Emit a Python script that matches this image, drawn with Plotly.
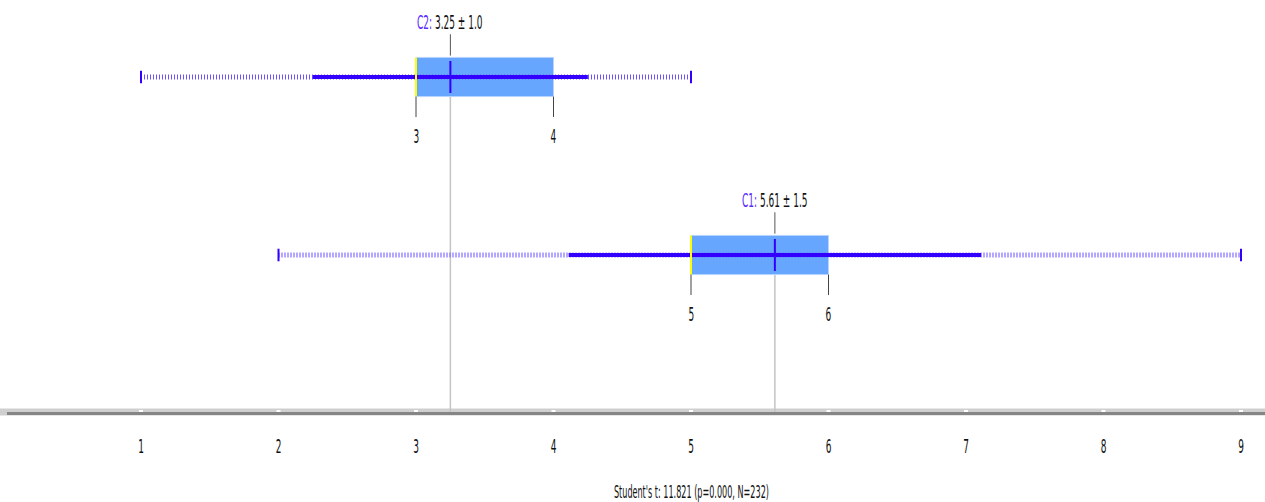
import plotly.graph_objects as go

# Group summaries (top row first)
groups = ["C2", "C1"]
means = [3.25, 5.61]
sds = [1.0, 1.5]
q1s = [3, 5]
q3s = [4, 6]
medians = [3, 5]
mins = [1, 2]
maxs = [5, 9]

x_ticks = [1, 2, 3, 4, 5, 6, 7, 8, 9]
test_label = "Student's t: 11.821 (p=0.000, N=232)"

FONT = "DejaVu Sans, Verdana, sans-serif"
W, H = 1265, 502
AXIS_PX = 412            # vertical pixel of the value axis
ROW0_PX, ROW_GAP = 77, 178
BOX_HALF = 0.11
AXIS_Y = (AXIS_PX - ROW0_PX) / ROW_GAP
TEXT_SQUEEZE = 0.45      # horizontal compression applied to every label
TEXT_COLOR = "#111111"

VIOLET = "#3300ff"
BOX_FILL = "#66a6ff"
BOX_EDGE = "#b8d4ff"

fig = go.Figure()
shapes = []
annotations = []

for i, g in enumerate(groups):
    y = i
    m, s = means[i], sds[i]

    # light reference line from the mean down to the axis
    shapes.append(dict(type="line", x0=m, x1=m, y0=y + BOX_HALF, y1=AXIS_Y,
                       line=dict(color="#c4c4c4", width=1.5), layer="below"))
    # interquartile box
    shapes.append(dict(type="rect", x0=q1s[i], x1=q3s[i], y0=y - BOX_HALF, y1=y + BOX_HALF,
                       fillcolor=BOX_FILL, line=dict(color=BOX_EDGE, width=1), layer="below"))
    # tick above the box at the mean
    shapes.append(dict(type="line", x0=m, x1=m, y0=y - 0.24, y1=y - 0.12,
                       line=dict(color="#555555", width=1)))
    # quartile ticks under the box
    for q in (q1s[i], q3s[i]):
        shapes.append(dict(type="line", x0=q, x1=q, y0=y + BOX_HALF, y1=y + 0.225,
                           line=dict(color="#444444", width=1)))
        annotations.append(dict(x=q, y=y + 0.33, text=f"{q}", showarrow=False,
                                font=dict(family=FONT, size=20, color=TEXT_COLOR)))

    # full range (min-max), hatched
    fig.add_trace(go.Scatter(x=[mins[i], maxs[i]], y=[y, y], mode="lines",
                             line=dict(color="#6a55ff", width=5, dash="1px,2px"),
                             hoverinfo="skip", showlegend=False))
    # range end caps
    fig.add_trace(go.Scatter(x=[mins[i], maxs[i]], y=[y, y], mode="markers",
                             marker=dict(symbol="line-ns", size=9,
                                         line=dict(color=VIOLET, width=2)),
                             hoverinfo="skip", showlegend=False))
    # mean +/- sd
    fig.add_trace(go.Scatter(x=[m - s, m + s], y=[y, y], mode="lines",
                             line=dict(color=VIOLET, width=4),
                             hoverinfo="skip", showlegend=False))
    # median
    fig.add_trace(go.Scatter(x=[medians[i], medians[i]], y=[y - BOX_HALF, y + BOX_HALF],
                             mode="lines", line=dict(color="#ffff00", width=2),
                             hoverinfo="skip", showlegend=False))
    # mean
    fig.add_trace(go.Scatter(x=[m, m], y=[y - 0.09, y + 0.09], mode="lines",
                             line=dict(color=VIOLET, width=2),
                             hoverinfo="skip", showlegend=False))

    annotations.append(dict(
        x=m, y=y - 0.31, showarrow=False,
        text=f"<span style='color:#5a2cff'>{g}:</span> {m:.2f} ± {s:.1f}",
        font=dict(family=FONT, size=20, color=TEXT_COLOR)))

# test statistic, centred under the tick span
annotations.append(dict(x=(x_ticks[0] + x_ticks[-1]) / 2, xref="x",
                        y=(H - 491) / H, yref="paper", yanchor="middle",
                        text=test_label, showarrow=False,
                        font=dict(family=FONT, size=18, color=TEXT_COLOR)))

# small white squares marking the ticks on the axis
fig.add_trace(go.Scatter(x=x_ticks, y=[AXIS_Y] * len(x_ticks), mode="markers",
                         marker=dict(symbol="square", size=4, color="white"),
                         cliponaxis=False, hoverinfo="skip", showlegend=False))

axis_frac = (H - AXIS_PX) / H
# soft outer band of the axis line
shapes.append(dict(type="line", xref="paper", yref="paper", x0=0, x1=1,
                   y0=axis_frac, y1=axis_frac, line=dict(color="#cfcfcf", width=7),
                   layer="below"))

px_per_unit = (1241 - 141) / 8
x_left = 1 + (7 - 141) / px_per_unit
x_right = 9 + (W - 1241) / px_per_unit

fig.update_layout(
    width=W, height=H,
    margin=dict(l=0, r=0, t=0, b=0),
    paper_bgcolor="white", plot_bgcolor="white",
    shapes=shapes, annotations=annotations,
    xaxis=dict(range=[x_left, x_right], domain=[7 / W, 1],
               tickvals=x_ticks, ticktext=[str(t) for t in x_ticks],
               showgrid=False, zeroline=False, showline=True,
               linecolor="#858585", linewidth=3, ticks="",
               ticklabelstandoff=14,
               tickfont=dict(family=FONT, size=20, color=TEXT_COLOR)),
    yaxis=dict(range=[AXIS_Y, -ROW0_PX / ROW_GAP], domain=[axis_frac, 1],
               visible=False, fixedrange=True),
    font=dict(family=FONT),
)

# Compress every label horizontally about its own centre (narrow lettering).
squeeze_js = """
var gd = document.getElementById('{plot_id}');
gd.querySelectorAll('.main-svg text').forEach(function (t) {
  var b = t.getBBox();
  if (!b.width) { return; }
  var cx = b.x + b.width / 2;
  var prev = t.getAttribute('transform') || '';
  t.setAttribute('transform', prev + ' translate(' + cx + ',0) scale(%s,1) translate(' + (-cx) + ',0)');
});
""" % TEXT_SQUEEZE

fig.write_html("out.html", post_script=squeeze_js)
